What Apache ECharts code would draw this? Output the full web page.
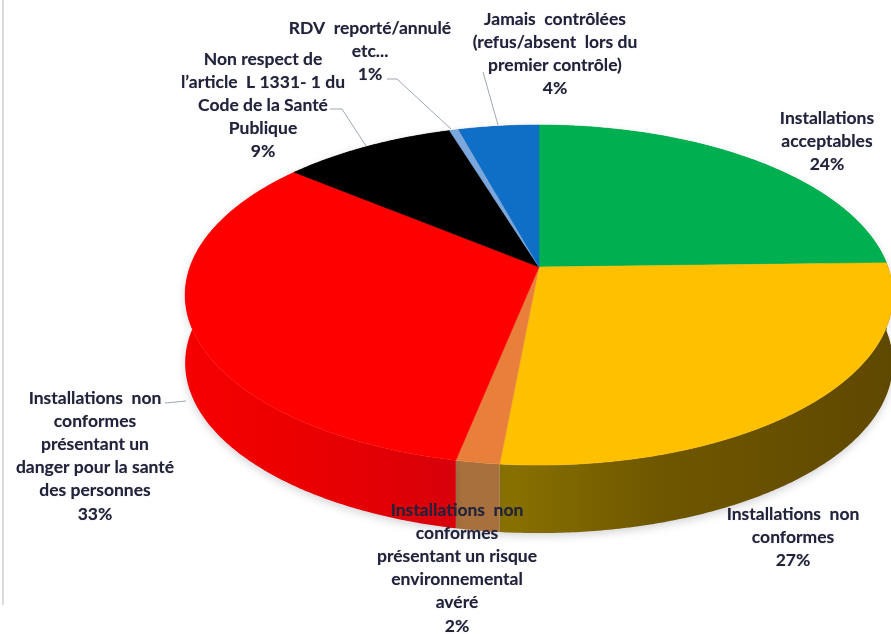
<!DOCTYPE html>
<html><head><meta charset="utf-8">
<style>html,body{margin:0;padding:0;background:#fff}#c{width:891px;height:634px}</style>
<script src="https://cdn.jsdelivr.net/npm/echarts@6/dist/echarts.min.js"></script>
</head><body><div id="c"></div>
<script>
const categories = ["Installations acceptables","Installations non conformes","Installations non conformes présentant un risque environnemental avéré","Installations non conformes présentant un danger pour la santé des personnes","Non respect de l'article L 1331-1 du Code de la Santé Publique","RDV reporté/annulé etc...","Jamais contrôlées (refus/absent lors du premier contrôle)"];
const values = [24.6,26.9,1.7,32.7,9.3,0.5,4.3];
const percentLabels = ["24%","27%","2%","33%","9%","1%","4%"];
const labelLines = [
 ["Installations","acceptables"],
 ["Installations  non","conformes"],
 ["Installations  non","conformes","présentant un risque","environnemental","avéré"],
 ["Installations  non","conformes","présentant un","danger pour la santé","des personnes"],
 ["Non respect de","l’article  L 1331- 1 du","Code de la Santé","Publique"],
 ["RDV  reporté/annulé","etc..."],
 ["Jamais  contrôlées","(refus/absent  lors du","premier contrôle)"]
];
const topColors = ["#00b050","#ffc000","#e8803c","#ff0000","#000000","#7ba7dc","#0f6fc6"];
const wallColors = [["#007a38","#007a38","#007a38"],["#8a7200","#6f5700","#5f4800"],["#a8703c","#a8703c","#a8703c"],["#f60000","#ec0000","#d8000a"],["#000","#000","#000"],["#4c74a0","#4c74a0","#4c74a0"],["#0a4d8a","#0a4d8a","#0a4d8a"]];
const labelAnchors = [[827,118],[793,514],[457,510],[95,398],[263,59],[370,28],[555,19]];
const leaders = [
 [[387,79],[397,79],[451,129]],
 [[483,72],[498,125]],
 [[330,109],[342,109],[366,146]],
 [[165,403],[186,401]]
];
const CX=539, CY=267, RX=349, RY=165.4, K=0.165, DEPTH=68, LH=23.2;
const total = values.reduce((a,b)=>a+b,0);
function pt(deg,dy){const t=deg*Math.PI/180,w=1+K*Math.cos(t);return [CX+RX*Math.sin(t)/w,CY-RY*Math.cos(t)/w+(dy||0)];}
function arc(a,b,dy){const n=Math.max(2,Math.ceil((b-a)/0.5)),o=[];for(let i=0;i<=n;i++)o.push(pt(a+(b-a)*i/n,dy));return o;}
function range(i){let s=0;for(let j=0;j<i;j++)s+=values[j];return [s/total*360,(s+values[i])/total*360];}
function grad(c){return {type:'linear',x:0,y:0,x2:1,y2:0,colorStops:[{offset:0,color:c[0]},{offset:0.4,color:c[1]},{offset:1,color:c[2]}]};}
const seriesData = values.map((v,i)=>({name:categories[i],value:[v,i]}));
const graphics=[{type:'rect',shape:{x:2,y:0,width:2,height:605},style:{fill:'#dcdcdc'},silent:true}];
leaders.forEach(p=>graphics.push({type:'polyline',z:20,shape:{points:p},style:{stroke:'#9fa8b0',lineWidth:1,fill:null},silent:true}));
labelLines.forEach((ls,i)=>{
  [...ls,percentLabels[i]].forEach((t,j)=>graphics.push({type:'text',z:30,x:labelAnchors[i][0],y:labelAnchors[i][1]+j*LH,
   style:{text:t,align:'center',verticalAlign:'middle',fill:'#20233a',font:'bold 17.5px Lato, "Open Sans", sans-serif',textShadowColor:'rgba(30,30,60,.35)',textShadowBlur:1},silent:true}));
});
const chart=echarts.init(document.getElementById('c'),null,{renderer:'canvas'});
chart.setOption({
 animation:false,backgroundColor:'#fff',
 graphic:graphics,
 series:[
 {type:'custom',coordinateSystem:'none',z:2,silent:true,data:seriesData,
  renderItem(p,api){const i=api.value(1),[a,b]=range(i);
   return {type:'polygon',shape:{points:arc(a,b,0).concat(arc(a,b,DEPTH).reverse())},
    style:{fill:grad(wallColors[i]),shadowColor:'rgba(60,60,80,.22)',shadowBlur:8,shadowOffsetY:3}};}},
 {type:'custom',coordinateSystem:'none',z:3,silent:true,data:seriesData,
  renderItem(p,api){const i=api.value(1),[a,b]=range(i);
   return {type:'polygon',shape:{points:[[CX,CY]].concat(arc(a,b,0))},style:{fill:topColors[i],stroke:topColors[i],lineWidth:0.5}};}}
 ]
});
</script></body></html>
